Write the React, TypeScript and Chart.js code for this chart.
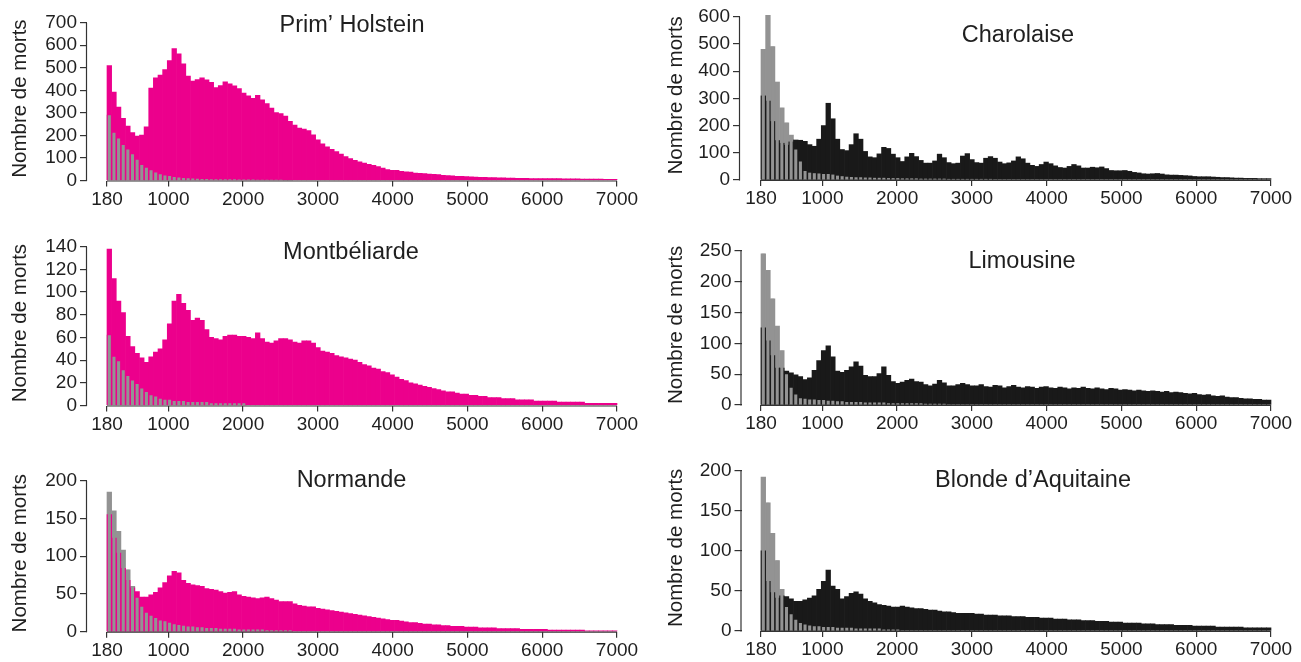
import React, { useEffect, useRef } from "react";
import { Chart, registerables } from "chart.js";

Chart.register(...registerables);

const FONT_FAMILY = '"Liberation Sans", Arial, Helvetica, sans-serif';
const PINK = "#ec008c";
const BLACK = "#191919";
const GRAY = "#939393";
const INK = "#1f1f1f";

// Age bins (days): first bin starts at 180, each bin is 62 days wide
const BIN_START = 180;
const BIN_WIDTH = 62;
const X_TICKS = [180, 1000, 2000, 3000, 4000, 5000, 6000, 7000];
const Y_LABEL = "Nombre de morts";

const Y_TICKS_HOLSTEIN = [0, 100, 200, 300, 400, 500, 600, 700];
const Y_TICKS_CHAROLAISE = [0, 100, 200, 300, 400, 500, 600];
const Y_TICKS_MONTBELIARDE = [0, 20, 40, 60, 80, 100, 120, 140];
const Y_TICKS_LIMOUSINE = [0, 50, 100, 150, 200, 250];
const Y_TICKS_NORMANDE = [0, 50, 100, 150, 200];
const Y_TICKS_BLONDE = [0, 50, 100, 150, 200];

const HOLSTEIN_MORTS = [
  510, 392, 326, 276, 241, 213, 197, 201, 238, 410,
  455, 468, 492, 532, 585, 562, 518, 463, 441, 448,
  455, 447, 436, 412, 421, 438, 429, 420, 408, 388,
  376, 364, 378, 358, 341, 321, 301, 297, 286, 262,
  246, 233, 228, 221, 203, 180, 163, 149, 138, 128,
  117, 106, 97, 89, 83, 77, 72, 67, 62, 55,
  48, 45, 45, 41, 39, 37, 33, 32, 31, 28,
  27, 26, 23, 22, 21, 19, 18, 17, 16, 15,
  14, 14, 13, 13, 12, 12, 11, 11, 10, 10,
  10, 9, 9, 9, 8, 8, 8, 8, 7, 7,
  7, 7, 6, 6, 6, 6, 6, 5, 5, 5,
];
const HOLSTEIN_GRIS = [
  290, 212, 186, 158, 137, 116, 92, 69, 57, 45,
  35, 28, 22, 20, 16, 13, 11, 10, 9, 8,
  7, 7, 6, 6, 5, 5, 5, 5, 4, 4,
  4, 4, 3, 3, 3, 3, 3, 3, 2, 2,
];

const CHAROLAISE_MORTS = [
  309, 290, 215, 145, 135, 128, 140, 147, 146, 142,
  130, 124, 150, 200, 282, 225, 150, 112, 108, 130,
  170, 150, 105, 85, 82, 96, 120, 116, 95, 82,
  68, 85, 98, 86, 72, 62, 62, 70, 95, 82,
  64, 60, 62, 88, 97, 75, 64, 62, 80, 86,
  80, 66, 60, 63, 70, 85, 78, 62, 54, 50,
  57, 66, 60, 52, 46, 44, 50, 57, 52, 44,
  44, 47, 45, 48, 42, 35, 34, 34, 35, 32,
  28, 26, 23, 22, 23, 24, 22, 19, 18, 18,
  17, 16, 15, 13, 12, 12, 12, 11, 10, 9,
  9, 8, 7, 7, 6, 6, 6, 5, 5, 5,
];
const CHAROLAISE_GRIS = [
  480, 605, 490, 360, 265, 210, 165, 112, 68, 33,
  27, 25, 24, 22, 22, 20, 16, 14, 12, 11,
  10, 10, 9, 9, 8, 8, 8, 7, 7, 7,
  6, 6, 6, 6, 5, 5, 5, 5, 5, 5,
  4, 4, 4, 4, 4, 4, 4, 4, 4, 4,
];

const MONTBELIARDE_MORTS = [
  138, 112, 92, 82, 61, 52, 46, 42, 38, 43,
  47, 50, 58, 72, 92, 98, 90, 84, 75, 77,
  75, 67, 60, 59, 58, 61, 62, 62, 61, 61,
  60, 59, 64, 59, 56, 55, 57, 59, 59, 58,
  56, 55, 57, 57, 55, 51, 48, 47, 46, 44,
  43, 42, 41, 40, 38, 36, 35, 33, 32, 30,
  29, 27, 25, 23, 22, 20, 19, 18, 17, 16,
  15, 14, 13, 12, 12, 11, 10, 10, 9, 9,
  8, 8, 7, 7, 7, 6, 6, 6, 5, 5,
  5, 5, 4, 4, 4, 4, 4, 3, 3, 3,
  3, 3, 3, 2, 2, 2, 2, 2, 2, 2,
];
const MONTBELIARDE_GRIS = [
  62, 43, 39, 31, 26, 22, 19, 15, 12, 9,
  8, 6, 5, 5, 4, 4, 4, 3, 3, 3,
  3, 3, 2, 2, 2, 2, 2, 2, 2, 2,
];

const LIMOUSINE_MORTS = [
  125, 104, 80, 60, 60, 55, 52, 49, 46, 41,
  44, 56, 72, 88, 96, 78, 55, 53, 56, 62,
  70, 63, 48, 46, 46, 51, 62, 48, 38, 35,
  37, 40, 42, 38, 37, 33, 31, 34, 40, 36,
  31, 31, 33, 35, 33, 31, 31, 33, 30, 29,
  32, 31, 28, 30, 32, 29, 28, 30, 29, 27,
  29, 30, 28, 27, 29, 28, 26, 28, 27, 29,
  27, 26, 28, 26, 25, 27, 26, 24, 25, 24,
  23, 24, 23, 22, 23, 22, 21, 22, 20, 21,
  20, 19, 18, 19, 17, 16, 17, 15, 14, 15,
  13, 12, 12, 11, 10, 10, 9, 9, 8, 8,
];
const LIMOUSINE_GRIS = [
  245, 218, 172, 128, 88, 50, 28, 17, 11, 10,
  9, 9, 8, 8, 7, 7, 6, 6, 5, 5,
  5, 5, 4, 4, 4, 4, 4, 3, 3, 3,
  3, 3, 3, 3, 3, 2, 2, 2, 2, 2,
];

const NORMANDE_MORTS = [
  155, 124, 104, 84, 68, 58, 53, 46, 46, 49,
  52, 58, 65, 74, 80, 78, 68, 64, 62, 61,
  60, 57, 56, 55, 53, 51, 52, 53, 49, 47,
  46, 45, 44, 45, 46, 44, 42, 40, 40, 40,
  37, 35, 34, 33, 33, 31, 30, 29, 28, 27,
  26, 25, 24, 23, 22, 21, 20, 19, 18, 17,
  16, 15, 15, 14, 13, 12, 12, 11, 10, 10,
  9, 9, 8, 8, 7, 7, 7, 6, 6, 6,
  5, 5, 5, 5, 4, 4, 4, 4, 4, 3,
  3, 3, 3, 3, 3, 2, 2, 2, 2, 2,
  2, 2, 2, 1, 1, 1, 1, 1, 1, 1,
];
const NORMANDE_GRIS = [
  185, 160, 133, 108, 82, 60, 45, 33, 25, 21,
  18, 15, 14, 12, 10, 9, 8, 7, 7, 6,
  6, 5, 5, 5, 4, 4, 4, 4, 3, 3,
  3, 3, 3, 3, 2, 2, 2, 2, 2, 2,
];

const BLONDE_MORTS = [
  100, 62, 48, 41, 44, 43, 40, 37, 37, 39,
  41, 44, 52, 62, 76, 56, 52, 40, 43, 47,
  49, 46, 40, 37, 35, 33, 32, 31, 30, 30,
  31, 30, 29, 28, 28, 27, 26, 26, 25, 24,
  24, 23, 22, 22, 22, 22, 21, 21, 20, 20,
  20, 19, 19, 19, 18, 18, 18, 17, 17, 17,
  16, 16, 16, 15, 15, 15, 14, 14, 14, 13,
  13, 13, 12, 12, 12, 11, 11, 11, 10, 10,
  10, 10, 9, 9, 9, 8, 8, 8, 8, 7,
  7, 7, 7, 6, 6, 6, 6, 6, 5, 5,
  5, 5, 5, 5, 4, 4, 4, 4, 4, 4,
];
const BLONDE_GRIS = [
  192, 160, 122, 88, 52, 30, 21, 14, 10, 8,
  7, 6, 6, 5, 5, 5, 4, 4, 4, 4,
  3, 3, 3, 3, 3, 3, 2, 2, 2, 2,
];

// Layout of the six panels (page pixels)
const PANELS = [
  {
    key: "holstein", title: "Prim\u2019 Holstein", main: HOLSTEIN_MORTS, gray: HOLSTEIN_GRIS, color: PINK, yTicks: Y_TICKS_HOLSTEIN,
    box: { left: 0, top: 0, width: 650, height: 215 }, axisX: 87, zeroY: 180.5, topY: 22.7, px180: 107, px7000: 617,
    titleX: 352, titleBase: 32, yTitleX: 20,
  },
  {
    key: "charolaise", title: "Charolaise", main: CHAROLAISE_MORTS, gray: CHAROLAISE_GRIS, color: BLACK, yTicks: Y_TICKS_CHAROLAISE,
    box: { left: 650, top: 0, width: 651, height: 215 }, axisX: 740, zeroY: 180, topY: 16.7, px180: 761, px7000: 1271,
    titleX: 1018, titleBase: 41.5, yTitleX: 676,
  },
  {
    key: "montbeliarde", title: "Montb\u00e9liarde", main: MONTBELIARDE_MORTS, gray: MONTBELIARDE_GRIS, color: PINK, yTicks: Y_TICKS_MONTBELIARDE,
    box: { left: 0, top: 225, width: 650, height: 215 }, axisX: 87, zeroY: 405.5, topY: 246.7, px180: 107, px7000: 617,
    titleX: 351, titleBase: 259, yTitleX: 20,
  },
  {
    key: "limousine", title: "Limousine", main: LIMOUSINE_MORTS, gray: LIMOUSINE_GRIS, color: BLACK, yTicks: Y_TICKS_LIMOUSINE,
    box: { left: 650, top: 225, width: 651, height: 215 }, axisX: 741.5, zeroY: 405, topY: 250.7, px180: 761, px7000: 1271,
    titleX: 1022, titleBase: 268, yTitleX: 676,
  },
  {
    key: "normande", title: "Normande", main: NORMANDE_MORTS, gray: NORMANDE_GRIS, color: PINK, yTicks: Y_TICKS_NORMANDE,
    box: { left: 0, top: 450, width: 650, height: 212 }, axisX: 87, zeroY: 631.7, topY: 480.7, px180: 107, px7000: 617,
    titleX: 351.5, titleBase: 486.7, yTitleX: 20,
  },
  {
    key: "blonde", title: "Blonde d\u2019Aquitaine", main: BLONDE_MORTS, gray: BLONDE_GRIS, color: BLACK, yTicks: Y_TICKS_BLONDE,
    box: { left: 650, top: 450, width: 651, height: 212 }, axisX: 741.5, zeroY: 631, topY: 470.7, px180: 761, px7000: 1271,
    titleX: 1033, titleBase: 487, yTitleX: 676,
  },
];

function toPoints(values: number[]) {
  return values.map((v, i) => ({ x: BIN_START + BIN_WIDTH * (i + 0.5), y: v }));
}

function makeChart(canvas: HTMLCanvasElement, p: any) {
  const W = p.box.width;
  const H = p.box.height;
  const L = p.axisX - p.box.left;
  const B = p.zeroY - p.box.top;
  const xFirst = X_TICKS[0];
  const xLast = X_TICKS[X_TICKS.length - 1];
  const topTick = p.yTicks[p.yTicks.length - 1];
  const ky = (p.zeroY - p.topY) / topTick;
  const yMax = B / ky;
  const kx = (p.px7000 - p.px180) / (xLast - xFirst);
  const xMin = xFirst - (p.px180 - p.axisX) / kx;
  const xMax = xLast + (p.box.left + W - p.px7000) / kx;

  const mainPts = toPoints(p.main);
  const grayPts = toPoints(p.gray);

  const decor = {
    id: "decor",
    afterDraw(chart: any) {
      const ctx = chart.ctx;
      const xs = chart.scales.x;
      const ys = chart.scales.y;
      const yb = ys.getPixelForValue(0);
      const yt = ys.getPixelForValue(topTick);
      ctx.save();
      ctx.strokeStyle = "#333";
      ctx.lineWidth = 1.2;
      ctx.beginPath();
      ctx.moveTo(xs.getPixelForValue(xFirst), yb + 0.5);
      ctx.lineTo(xs.getPixelForValue(xLast), yb + 0.5);
      ctx.stroke();
      const xa = chart.chartArea.left;
      ctx.beginPath();
      ctx.moveTo(xa - 0.5, yb + 0.5);
      ctx.lineTo(xa - 0.5, yt);
      ctx.stroke();

      ctx.fillStyle = INK;
      ctx.font = `23.5px ${FONT_FAMILY}`;
      ctx.textAlign = "center";
      ctx.textBaseline = "alphabetic";
      ctx.fillText(p.title, p.titleX - p.box.left, p.titleBase - p.box.top);

      ctx.translate(p.yTitleX - p.box.left, (yb + yt) / 2 - 3);
      ctx.rotate(-Math.PI / 2);
      ctx.font = `20.5px ${FONT_FAMILY}`;
      ctx.textAlign = "center";
      ctx.textBaseline = "middle";
      ctx.fillText(Y_LABEL, 0, 0);
      ctx.restore();
    },
  };

  return new Chart(canvas, {
    type: "bar",
    data: {
      datasets: [
        {
          label: "gris (avant)",
          data: grayPts,
          backgroundColor: GRAY,
          grouped: false,
          barPercentage: 0.66,
          categoryPercentage: 1,
          borderWidth: 0,
          order: 1,
        },
        {
          label: "morts",
          data: mainPts,
          backgroundColor: p.color,
          grouped: false,
          barPercentage: 1,
          categoryPercentage: 1,
          borderWidth: 0,
          order: 2,
        },
        {
          label: "gris",
          data: grayPts,
          backgroundColor: GRAY,
          grouped: false,
          barPercentage: 1,
          categoryPercentage: 1,
          borderWidth: 0,
          order: 3,
        },
      ],
    } as any,
    options: {
      responsive: false,
      animation: false,
      devicePixelRatio: 1,
      events: [],
      layout: { padding: 0 },
      plugins: {
        legend: { display: false },
        tooltip: { enabled: false },
        title: { display: false },
      },
      scales: {
        x: {
          type: "linear",
          min: xMin,
          max: xMax,
          offset: false,
          border: { display: false },
          grid: { display: true, offset: false, drawOnChartArea: false, drawTicks: true, tickLength: 6, color: "#333", lineWidth: 1.2 },
          ticks: {
            autoSkip: false,
            maxRotation: 0,
            minRotation: 0,
            padding: 1.5,
            color: INK,
            font: { family: FONT_FAMILY, size: 19 },
            callback: (v: any) => String(v),
          },
          afterBuildTicks: (s: any) => {
            s.ticks = X_TICKS.map((v) => ({ value: v }));
          },
          afterFit: (s: any) => {
            s.height = H - B;
            s.paddingLeft = 0;
            s.paddingRight = 0;
          },
        },
        y: {
          type: "linear",
          min: 0,
          max: yMax,
          border: { display: false },
          grid: { display: true, drawOnChartArea: false, drawTicks: true, tickLength: 7, color: "#333", lineWidth: 1.2 },
          ticks: {
            autoSkip: false,
            padding: 3,
            color: INK,
            font: { family: FONT_FAMILY, size: 19 },
            callback: (v: any) => String(v),
          },
          afterBuildTicks: (s: any) => {
            s.ticks = p.yTicks.map((v: number) => ({ value: v }));
          },
          afterFit: (s: any) => {
            s.width = L;
            s.paddingTop = 0;
            s.paddingBottom = 0;
          },
        },
      },
    } as any,
    plugins: [decor],
  });
}

function Panel({ p }: { p: any }) {
  const ref = useRef<HTMLCanvasElement>(null);
  useEffect(() => {
    if (!ref.current) return;
    const chart = makeChart(ref.current, p);
    return () => chart.destroy();
  }, [p]);
  return (
    <canvas
      ref={ref}
      width={p.box.width}
      height={p.box.height}
      style={{ position: "absolute", left: p.box.left, top: p.box.top, width: p.box.width, height: p.box.height }}
    />
  );
}

export default function App() {
  return (
    <div style={{ position: "absolute", left: 0, top: 0, width: 1301, height: 662, background: "#ffffff", overflow: "hidden" }}>
      {PANELS.map((p) => (
        <Panel key={p.key} p={p} />
      ))}
    </div>
  );
}
